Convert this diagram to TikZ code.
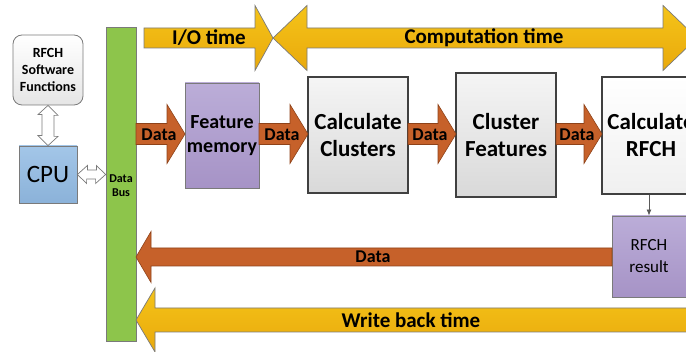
\documentclass[tikz,border=0pt]{standalone}
\usepackage{fontspec}
\setmainfont{Carlito}
\usetikzlibrary{calc,arrows.meta}

\definecolor{dataor}{HTML}{C6612A}
\definecolor{dataorD}{HTML}{8E4219}
\definecolor{timeY}{HTML}{F2B51F}
\definecolor{timeYD}{HTML}{E9A90C}
\definecolor{busG}{HTML}{8DC54B}
\definecolor{purT}{HTML}{BBADD8}
\definecolor{purB}{HTML}{A693C6}
\definecolor{cpuT}{HTML}{A3C6E8}
\definecolor{cpuB}{HTML}{8BB2D9}
\definecolor{edgeG}{HTML}{7A7A7A}

% horizontal block arrow: style, tail x, head base x, tip x, centre y, shaft half, head half
\newcommand\blockarrow[7]{%
  \draw[#1] ({#2},{#5-#6}) -- ({#3},{#5-#6}) -- ({#3},{#5-#7}) -- ({#4},{#5})
    -- ({#3},{#5+#7}) -- ({#3},{#5+#6}) -- ({#2},{#5+#6}) -- cycle;}

\begin{document}
\begin{tikzpicture}[x=1pt,y=-1pt,
  box/.style={draw=edgeG,line width=0.8pt,inner sep=0pt,align=center},
  procbox/.style={draw=black!75,line width=1.4pt,inner sep=0pt,align=center,
    top color=white!96!black,bottom color=black!15,
    font=\bfseries\fontsize{23}{27}\selectfont},
  purplebox/.style={box,top color=purT,bottom color=purB},
  dataarrow/.style={draw=dataorD,line width=0.6pt,fill=dataor,line join=miter},
  timearrow/.style={draw=edgeG,line width=0.7pt,top color=timeY!80!yellow,bottom color=timeYD,line join=miter},
  hollow/.style={draw=edgeG,line width=0.7pt,fill=white},
  datatext/.style={font=\bfseries\fontsize{18}{20}\selectfont,inner sep=0pt},
  timetext/.style={font=\bfseries\fontsize{21}{24}\selectfont,inner sep=0pt}]
\useasboundingbox (0,0) rectangle (686,352);
\clip (0,0) rectangle (686,352);

% host side
\node[box,rounded corners=9pt,top color=white,bottom color=black!10,
  minimum width=70pt,minimum height=70pt,
  font=\bfseries\fontsize{14}{17}\selectfont] (sw) at (48,70) {RFCH\\Software\\Functions};
\node[box,top color=cpuT,bottom color=cpuB,minimum width=58pt,minimum height=57pt,
  font=\fontsize{25}{30}\selectfont] (cpu) at (48,174.5) {CPU};
\node[box,fill=busG,minimum width=30pt,minimum height=314pt] (bus) at (121,184) {};
\node[font=\bfseries\fontsize{12}{14}\selectfont,align=center,inner sep=0pt] (bustext) at (121,186) {Data\\Bus};

% hollow links: software <-> CPU, CPU <-> bus
\draw[hollow] (sw.south) -- ++(10,10) -- ++(-4,0) -- ++(0,21) -- ++(4,0)
  -- (cpu.north) -- ++(-10,-10) -- ++(4,0) -- ++(0,-21) -- ++(-4,0) -- cycle;
\draw[hollow] (cpu.east) -- ++(10,-9) -- ++(0,4.5) -- ++(9,0) -- ++(0,-4.5)
  -- (cpu.east -| bus.west) -- ++(-10,9) -- ++(0,-4.5) -- ++(-9,0) -- ++(0,4.5) -- cycle;

% accelerator pipeline
\node[purplebox,minimum width=74pt,minimum height=105pt,
  font=\bfseries\fontsize{20}{24}\selectfont] (fm) at (222,135.5) {Feature\\memory};
\node[procbox,minimum width=100pt,minimum height=116pt] (cc) at (358,135) {Calculate\\Clusters};
\node[procbox,minimum width=100pt,minimum height=124pt] (cf) at (506,135) {Cluster\\Features};
\node[procbox,minimum width=98pt,minimum height=117pt,top color=white,bottom color=black!6] (cr) at (651,135.5) {Calculate\\RFCH};
\node[purplebox,minimum width=74pt,minimum height=81pt,
  font=\fontsize{17}{22}\selectfont] (res) at (649,256.5) {RFCH\\result};
\draw[draw=black!65,line width=0.8pt,-{Latex[length=6pt,width=5pt]}] (res.north |- cr.south) -- (res.north);

% data transfers along the pipeline
\blockarrow{dataarrow}{136}{167}{185}{134}{10.5}{29.5}
\blockarrow{dataarrow}{259}{290}{308}{134}{10.5}{29.5}
\blockarrow{dataarrow}{408}{438}{456}{134}{10.5}{29.5}
\blockarrow{dataarrow}{556}{584}{602}{134}{10.5}{29.5}
\node[datatext] (d1) at (159,134.5) {Data};
\node[datatext] (d2) at (282,134.5) {Data};
\node[datatext] (d3) at (430,134.5) {Data};
\node[datatext] (d4) at (577,134.5) {Data};

% result written back to the bus
\blockarrow{dataarrow}{612}{151}{136}{257}{9}{25.5}
\node[datatext] (d5) at (373,257) {Data};

% timing phases
\blockarrow{timearrow}{144}{255}{273}{38}{10}{32.5}
\node[timetext] (io) at (209,38) {I/O time};
\draw[timearrow] (273,38) -- (307,5.5) -- (307,28) -- (663,28) -- (663,5.5) -- (697,38)
  -- (663,70.5) -- (663,48) -- (307,48) -- (307,70.5) -- cycle;
\node[timetext] (comp) at (484,38) {Computation time};
\blockarrow{timearrow}{700}{155}{136}{320}{12}{32}
\node[timetext] (wb) at (411,320) {Write back time};
\end{tikzpicture}
\end{document}
